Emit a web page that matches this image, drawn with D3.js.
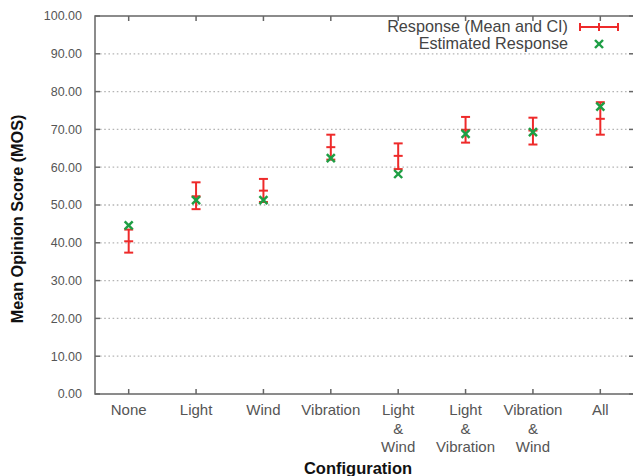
<!DOCTYPE html>
<html><head><meta charset="utf-8">
<script src="https://cdn.jsdelivr.net/npm/d3@7"></script>
<style>body{margin:0;background:#fff}svg{display:block}</style>
</head><body>
<svg id="c" width="633" height="476"></svg>
<script>
const categories = [["None"],["Light"],["Wind"],["Vibration"],["Light","&","Wind"],["Light","&","Vibration"],["Vibration","&","Wind"],["All"]];
const meanValues = [40.4, 52.3, 53.8, 65.3, 63.0, 69.9, 69.7, 72.8];
const ciLower    = [37.4, 48.9, 50.8, 62.0, 59.5, 66.5, 66.0, 68.6];
const ciUpper    = [43.5, 56.0, 56.9, 68.6, 66.3, 73.3, 73.1, 77.2];
const estimated  = [44.6, 51.3, 51.3, 62.4, 58.2, 68.8, 69.3, 76.0];
const yTicks = [0,10,20,30,40,50,60,70,80,90,100];
const legendLabels = ["Response (Mean and CI)", "Estimated Response"];

const RED = "#ee2a2a", GREEN = "#1e9e44", AXIS = "#666", LABEL = "#555";
const svg = d3.select("#c");
const L = 95, R = 634, T = 16, B = 394;
const x = d3.scaleLinear().domain([0.5, categories.length + 0.5]).range([L, R]);
const y = d3.scaleLinear().domain([0, 100]).range([B, T]);
const idx = d3.range(categories.length);

// grid
svg.append("g").selectAll("line").data(yTicks.filter(t => t > 0 && t < 100)).join("line")
  .attr("x1", L + 5).attr("x2", R - 5).attr("y1", d => y(d)).attr("y2", d => y(d))
  .attr("stroke", "#b5b5b5").attr("stroke-width", 1.3).attr("stroke-dasharray", "1.6,2.6");

// frame
const fr = svg.append("g").attr("stroke", AXIS).attr("stroke-width", 1.5).attr("fill", "none");
fr.append("rect").attr("x", L).attr("y", T).attr("width", R - L).attr("height", B - T);
fr.selectAll(".yt").data(yTicks).join("line").attr("class", "yt")
  .attr("x1", L).attr("x2", L + 5).attr("y1", d => y(d)).attr("y2", d => y(d));
fr.selectAll(".yt2").data(yTicks).join("line").attr("class", "yt2")
  .attr("x1", R).attr("x2", R - 5).attr("y1", d => y(d)).attr("y2", d => y(d));
fr.selectAll(".xt").data(idx).join("line").attr("class", "xt")
  .attr("x1", d => x(d + 1)).attr("x2", d => x(d + 1)).attr("y1", B).attr("y2", B - 5);
fr.selectAll(".xt2").data(idx).join("line").attr("class", "xt2")
  .attr("x1", d => x(d + 1)).attr("x2", d => x(d + 1)).attr("y1", T).attr("y2", T + 5);

// y tick labels
svg.append("g").selectAll("text").data(yTicks).join("text")
  .attr("x", 82).attr("y", d => y(d)).attr("dy", "0.35em").attr("text-anchor", "end")
  .attr("font-family", "Liberation Sans, Arial, sans-serif").attr("font-size", 12.5)
  .attr("fill", LABEL).text(d => d3.format(".2f")(d));

// x labels
const xl = svg.append("g").attr("font-family", "Liberation Sans, Arial, sans-serif")
  .attr("font-size", 15).attr("fill", LABEL).attr("text-anchor", "middle");
idx.forEach(i => {
  const t = xl.append("text").attr("x", x(i + 1)).attr("y", 415);
  categories[i].forEach((s, k) => t.append("tspan").attr("x", x(i + 1)).attr("y", 415 + k * 18.5).text(s));
});

// axis titles
svg.append("text").attr("x", (L + 633) / 2 - 6).attr("y", 474).attr("text-anchor", "middle")
  .attr("font-family", "Liberation Sans, Arial, sans-serif").attr("font-size", 16.5)
  .attr("font-weight", "bold").attr("fill", "#111").text("Configuration");
svg.append("text").attr("transform", "translate(23,219) rotate(-90)").attr("text-anchor", "middle")
  .attr("font-family", "Liberation Sans, Arial, sans-serif").attr("font-size", 16.2)
  .attr("font-weight", "bold").attr("fill", "#111").text("Mean Opinion Score (MOS)");

// error bars
const cap = 4.5;
const eb = svg.append("g").attr("stroke", RED).attr("stroke-width", 2);
idx.forEach(i => {
  const cx = x(i + 1);
  eb.append("line").attr("x1", cx).attr("x2", cx).attr("y1", y(ciLower[i])).attr("y2", y(ciUpper[i]));
  eb.append("line").attr("x1", cx - cap).attr("x2", cx + cap).attr("y1", y(ciLower[i])).attr("y2", y(ciLower[i]));
  eb.append("line").attr("x1", cx - cap).attr("x2", cx + cap).attr("y1", y(ciUpper[i])).attr("y2", y(ciUpper[i]));
  eb.append("line").attr("x1", cx - cap).attr("x2", cx + cap).attr("y1", y(meanValues[i])).attr("y2", y(meanValues[i]));
});

// estimated crosses
const cs = 4;
const cr = svg.append("g").attr("stroke", GREEN).attr("stroke-width", 2.4);
function cross(g, cx, cy) {
  g.append("line").attr("x1", cx - cs).attr("x2", cx + cs).attr("y1", cy - cs).attr("y2", cy + cs);
  g.append("line").attr("x1", cx - cs).attr("x2", cx + cs).attr("y1", cy + cs).attr("y2", cy - cs);
}
idx.forEach(i => cross(cr, x(i + 1), y(estimated[i])));

// legend
const lg = svg.append("g");
lg.selectAll("text").data(legendLabels).join("text")
  .attr("x", 568).attr("y", (d, i) => 26 + i * 17.5).attr("dy", "0.35em").attr("text-anchor", "end")
  .attr("font-family", "Liberation Sans, Arial, sans-serif").attr("font-size", 16.2)
  .attr("fill", "#444").text(d => d);
const le = lg.append("g").attr("stroke", RED).attr("stroke-width", 2);
le.append("line").attr("x1", 580).attr("x2", 618).attr("y1", 27).attr("y2", 27);
[580, 599, 618].forEach(px => le.append("line").attr("x1", px).attr("x2", px).attr("y1", 23).attr("y2", 31));
const lc = lg.append("g").attr("stroke", GREEN).attr("stroke-width", 2.4);
cross(lc, 599, 44);
</script>
</body></html>
